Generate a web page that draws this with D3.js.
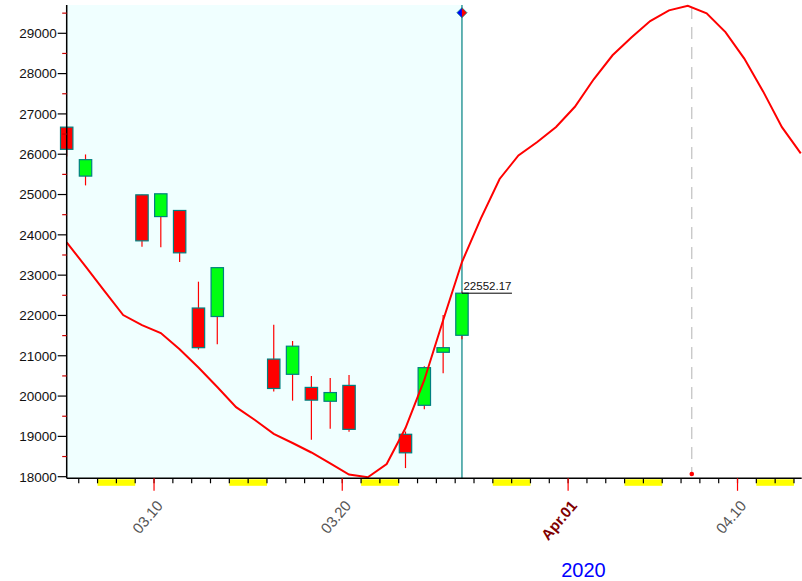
<!DOCTYPE html>
<html><head><meta charset="utf-8">
<script src="https://cdn.jsdelivr.net/npm/d3@7/dist/d3.min.js"></script>
<style>
body{margin:0;background:#fff}
svg{display:block}
text{font-family:"Liberation Sans",Arial,sans-serif}
</style>
</head><body>
<svg id="chart" width="802" height="581"></svg>
<script>
// ---------- data ----------
const candleDates = ["2020-03-05","2020-03-06","2020-03-09","2020-03-10","2020-03-11","2020-03-12","2020-03-13",
  "2020-03-16","2020-03-17","2020-03-18","2020-03-19","2020-03-20","2020-03-23","2020-03-24","2020-03-25","2020-03-26"];
const opens  = [26671.92,25457.21,24992.36,24453.00,24604.63,22184.71,21973.82,20917.53,20540,20215,19871,20265,19052,19771,21086,21508];
const highs  = [26671.92,25994.38,24992.36,25020.99,24604.63,22837.95,23189.76,21768.28,21366,20498,20449,20523,19121,20739,22011,22595];
const lows   = [25943.33,25226.62,23706.07,23690.34,23328.32,21154.46,21285.37,20116.20,19886,18917.46,19191,19116,18213.65,19672,20565,21409];
const closes = [26121.28,25864.78,23851.02,25018.16,23553.22,21200.62,23185.62,20188.52,21237.38,19898.92,20087.19,19173.98,18591.93,20704.91,21200.55,22552.17];

const forecastDates = ["2020-03-05","2020-03-06","2020-03-07","2020-03-08","2020-03-09","2020-03-10","2020-03-11","2020-03-12",
  "2020-03-13","2020-03-14","2020-03-15","2020-03-16","2020-03-17","2020-03-18","2020-03-19","2020-03-20","2020-03-21",
  "2020-03-22","2020-03-23","2020-03-24","2020-03-25","2020-03-26","2020-03-27","2020-03-28","2020-03-29","2020-03-30",
  "2020-03-31","2020-04-01","2020-04-02","2020-04-03","2020-04-04","2020-04-05","2020-04-06","2020-04-07","2020-04-08",
  "2020-04-09","2020-04-10","2020-04-11","2020-04-12","2020-04-13"];
const forecastValues = [23815,23217,22612,22011,21758,21565,21163,20709,20225,19724,19406,19064,18836,18600,18332,18052,17985,
  18315,19208,20399,21880,23326,24401,25386,25969,26304,26676,27177,27859,28455,28894,29303,29569,29683,29497,29030,28373,
  27559,26671,26023];

const yTickValues = [18000,19000,20000,21000,22000,23000,24000,25000,26000,27000,28000,29000];
const yMinorTickValues = [18500,19500,20500,21500,22500,23500,24500,25500,26500,27500,28500,29500];
const xLabelDates = ["2020-03-10","2020-03-20","2020-04-01","2020-04-10"];
const xLabelTexts = ["03.10","03.20","Apr.01","04.10"];
const yearLabel = "2020";
const peakMarkerTime = "2020-04-07T13:40:00Z";

// ---------- layout ----------
const W = 802, H = 581;
const pL = 66.7, pR = 801.7, pT = 5, pB = 478.3;
const sessionOffsetMs = 8.64 * 3600e3;  // candle time within the day
const DAY = 864e5;
const parseDay = s => new Date(s + "T00:00:00Z");
const t0 = +parseDay("2020-03-05") + sessionOffsetMs;
const x = d3.scaleUtc().domain([new Date(t0), new Date(t0 + 39.05 * DAY)]).range([pL, pR]);
const y = d3.scaleLinear().domain([17960, 29702]).range([pB, pT]);

const svg = d3.select("#chart");
svg.append("rect").attr("width", W).attr("height", H).attr("fill", "#fff");

const lastT = new Date(+parseDay(candleDates[candleDates.length - 1]) + sessionOffsetMs);
const lastX = x(lastT);

// cyan history background
svg.append("rect").attr("x", pL).attr("y", pT).attr("width", lastX - pL).attr("height", pB - pT)
  .attr("fill", "#f0ffff");

// weekend bands
const sats = d3.utcSaturday.range(parseDay("2020-03-01"), parseDay("2020-04-14"))
  .filter(d => x(d) < pR && x(d3.utcDay.offset(d, 2)) > pL);
svg.append("g").selectAll("rect").data(sats).join("rect")
  .attr("x", d => Math.max(pL, x(d)))
  .attr("width", d => Math.min(pR, x(d3.utcDay.offset(d, 2))) - Math.max(pL, x(d)))
  .attr("y", pB + 1).attr("height", 6.5).attr("fill", "#ffff00");

// teal current line
svg.append("line").attr("x1", lastX).attr("x2", lastX).attr("y1", pT).attr("y2", pB)
  .attr("stroke", "#008080").attr("stroke-width", 1.2);

// grey dashed peak line
const peakX = x(new Date(peakMarkerTime));
svg.append("line").attr("x1", peakX).attr("x2", peakX).attr("y1", pT + 2).attr("y2", pB - 4)
  .attr("stroke", "#c0c0c0").attr("stroke-width", 1.2).attr("stroke-dasharray", "12,8");
svg.append("circle").attr("cx", peakX).attr("cy", pB - 4.3).attr("r", 2.3).attr("fill", "#ff0000");

// candles
const candles = candleDates.map((d, i) => ({
  t: new Date(+parseDay(d) + sessionOffsetMs), o: opens[i], h: highs[i], l: lows[i], c: closes[i]
}));
const bodyW = 12.4;
const cg = svg.append("g");
cg.selectAll("line").data(candles).join("line")
  .attr("x1", d => x(d.t)).attr("x2", d => x(d.t))
  .attr("y1", d => y(d.h)).attr("y2", d => y(d.l))
  .attr("stroke", "#ff0000").attr("stroke-width", 1.2);
cg.selectAll("rect").data(candles).join("rect")
  .attr("x", d => x(d.t) - bodyW / 2).attr("width", bodyW)
  .attr("y", d => y(Math.max(d.o, d.c)))
  .attr("height", d => Math.max(1, Math.abs(y(d.o) - y(d.c))))
  .attr("fill", d => d.c >= d.o ? "#00ff11" : "#ff0000")
  .attr("stroke", "#008080").attr("stroke-width", 1.2);

// forecast line
const fpts = forecastDates.map((d, i) => [new Date(+parseDay(d) + sessionOffsetMs), forecastValues[i]]);
svg.append("path").datum(fpts)
  .attr("d", d3.line().x(d => x(d[0])).y(d => y(d[1])))
  .attr("fill", "none").attr("stroke", "#ff0000").attr("stroke-width", 2);

// y axis
svg.append("line").attr("x1", pL).attr("x2", pL).attr("y1", pT).attr("y2", pB)
  .attr("stroke", "#000").attr("stroke-width", 1.5);
const ya = svg.append("g");
ya.selectAll("line.maj").data(yTickValues).join("line").attr("class", "maj")
  .attr("x1", pL - 9).attr("x2", pL).attr("y1", d => y(d)).attr("y2", d => y(d))
  .attr("stroke", "#000").attr("stroke-width", 1.2);
ya.selectAll("line.min").data(yMinorTickValues).join("line").attr("class", "min")
  .attr("x1", pL - 4.5).attr("x2", pL).attr("y1", d => y(d)).attr("y2", d => y(d))
  .attr("stroke", "#cc0000").attr("stroke-width", 1.2);
ya.selectAll("text").data(yTickValues).join("text")
  .attr("x", pL - 10).attr("y", d => y(d)).attr("dy", "0.36em")
  .attr("text-anchor", "end").attr("font-size", 13.5).attr("fill", "#111")
  .text(d => d);

// x axis
svg.append("line").attr("x1", pL).attr("x2", pR).attr("y1", pB).attr("y2", pB)
  .attr("stroke", "#000").attr("stroke-width", 1.5);
const days = d3.utcDay.range(parseDay("2020-03-06"), parseDay("2020-04-14")).filter(d => x(d) > pL && x(d) < pR);
svg.append("g").selectAll("line").data(days).join("line")
  .attr("x1", d => x(d)).attr("x2", d => x(d)).attr("y1", pB).attr("y2", pB + 5)
  .attr("stroke", "#000").attr("stroke-width", 1.2);
const labels = xLabelDates.map((d, i) => ({ t: parseDay(d), s: xLabelTexts[i] }));
svg.append("g").selectAll("line").data(labels).join("line")
  .attr("x1", d => x(d.t)).attr("x2", d => x(d.t)).attr("y1", pB).attr("y2", pB + 12.5)
  .attr("stroke", "#ff0000").attr("stroke-width", 1.2);
svg.append("g").selectAll("text").data(labels).join("text")
  .attr("transform", d => `translate(${x(d.t) + 9.7},506) rotate(-50)`)
  .attr("text-anchor", "end").attr("font-size", 15)
  .attr("font-weight", d => d.s.startsWith("Apr") ? "bold" : "normal")
  .attr("fill", d => d.s.startsWith("Apr") ? "#800000" : "#555")
  .text(d => d.s);

svg.append("text").attr("x", 583.5).attr("y", 577).attr("text-anchor", "middle")
  .attr("font-size", 20).attr("fill", "#0000ff").text(yearLabel);

// last price label
const lastClose = closes[closes.length - 1];
svg.append("line").attr("x1", lastX).attr("x2", lastX + 50).attr("y1", y(lastClose)).attr("y2", y(lastClose))
  .attr("stroke", "#000").attr("stroke-width", 1);
svg.append("text").attr("x", lastX + 1.5).attr("y", y(lastClose) - 3.5)
  .attr("font-size", 11.5).attr("fill", "#111").text(d3.format(".2f")(lastClose));

// top diamond marker
const dy0 = 12.7, r = 5;
svg.append("path").attr("d", `M${lastX},${dy0 - r}L${lastX - r},${dy0}L${lastX},${dy0 + r}Z`).attr("fill", "#0000ff");
svg.append("path").attr("d", `M${lastX},${dy0 - r}L${lastX + r},${dy0}L${lastX},${dy0 + r}Z`).attr("fill", "#ff0000");
svg.append("path").attr("d", `M${lastX},${dy0 - r}L${lastX + r},${dy0}L${lastX},${dy0 + r}L${lastX - r},${dy0}Z`)
  .attr("fill", "none").attr("stroke", "#008080").attr("stroke-width", 0.8);
</script>
</body></html>
